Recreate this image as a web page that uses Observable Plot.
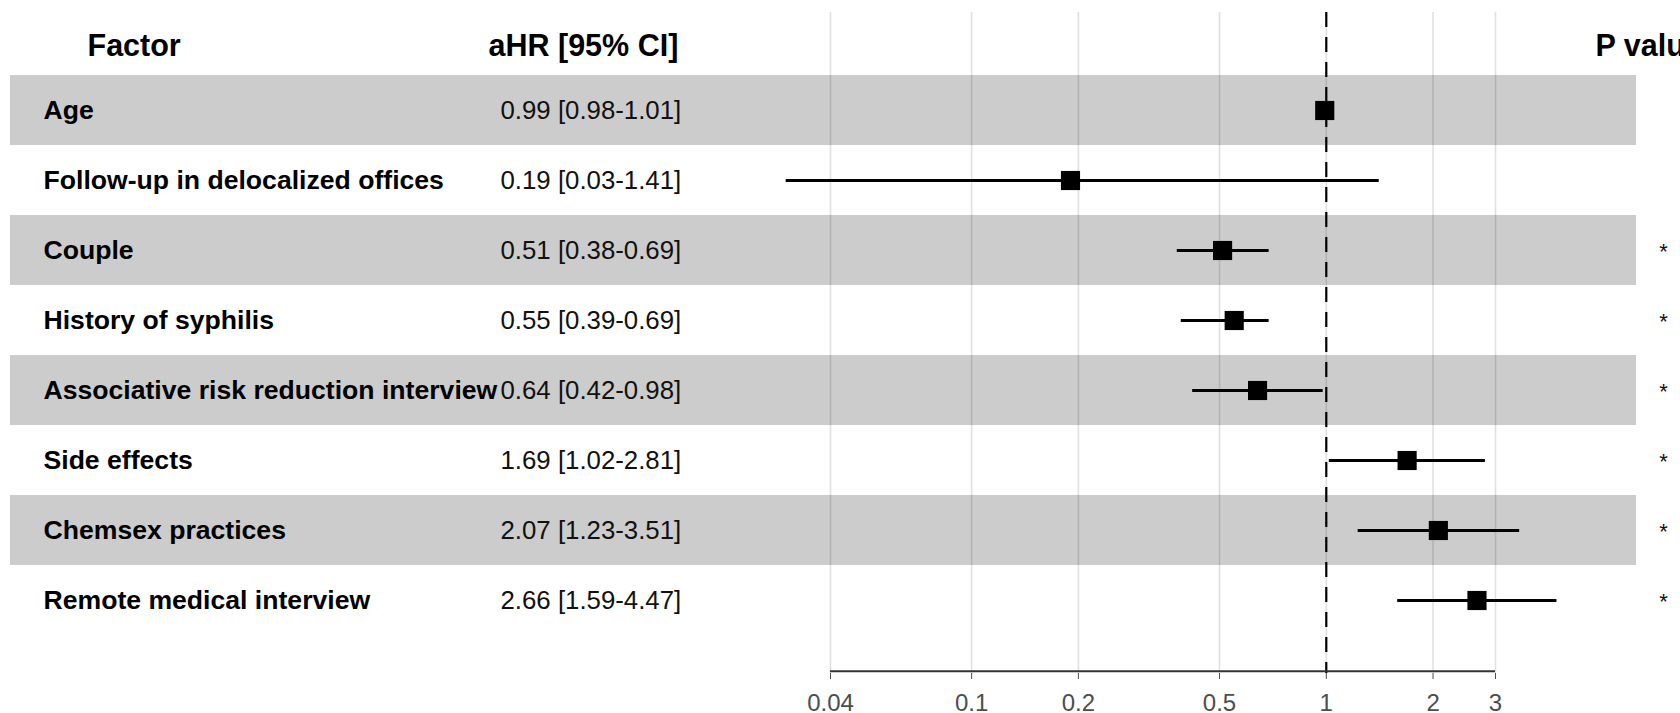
<!DOCTYPE html>
<html>
<head>
<meta charset="utf-8">
<script src="https://cdn.jsdelivr.net/npm/d3@7"></script>
<script src="https://cdn.jsdelivr.net/npm/@observablehq/plot@0.6"></script>
<style>
  html, body { margin: 0; padding: 0; background: #fff; }
  #chart svg { display: block; }
</style>
</head>
<body>
<div id="chart"></div>
<script>
// ---- data ----
const factors = [
  "Age",
  "Follow-up in delocalized offices",
  "Couple",
  "History of syphilis",
  "Associative risk reduction interview",
  "Side effects",
  "Chemsex practices",
  "Remote medical interview"
];
const hr    = [0.99, 0.19, 0.51, 0.55, 0.64, 1.69, 2.07, 2.66];
const lower = [0.98, 0.03, 0.38, 0.39, 0.42, 1.02, 1.23, 1.59];
const upper = [1.01, 1.41, 0.69, 0.69, 0.98, 2.81, 3.51, 4.47];
const pStars = ["", "", "*", "*", "*", "*", "*", "*"];
const xTicks = [0.04, 0.1, 0.2, 0.5, 1, 2, 3];
const headerFactor = "Factor";
const headerHR = "aHR [95% CI]";
const headerP = "P value";

// ---- table built from arrays ----
const rows = factors.map((f, i) => ({
  factor: f,
  hr: hr[i],
  lower: lower[i],
  upper: upper[i],
  label: `${hr[i].toFixed(2)} [${lower[i].toFixed(2)}-${upper[i].toFixed(2)}]`,
  star: pStars[i],
  shaded: i % 2 === 0
}));

// ---- layout ----
const W = 1680, H = 713;
const rowTop = 71.5, rowStep = 70.75;
const rowBottom = rowTop + rowStep * factors.length;
const font = "'Liberation Sans', Arial, sans-serif";

const chart = Plot.plot({
  width: W,
  height: H,
  marginLeft: 10,
  marginRight: 44,
  marginTop: 12,
  marginBottom: 40,
  style: { fontFamily: font, fontSize: "24px", color: "#4d4d4d", background: "#fff", overflow: "visible" },
  x: {
    type: "log",
    domain: [xTicks[0], xTicks[xTicks.length - 1]],
    range: [830, 1495],
    ticks: xTicks,
    tickFormat: d => String(d),
    tickSize: 6,
    tickPadding: 14,
    label: null
  },
  y: {
    type: "band",
    domain: factors,
    range: [rowTop, rowBottom],
    padding: 0,
    axis: null
  },
  marks: [
    // alternating grey bands
    Plot.cell(rows.filter(d => d.shaded), { y: "factor", fill: "#cccccc" }),
    // vertical grid lines at ticks
    Plot.ruleX(xTicks, { stroke: "#000", strokeOpacity: 0.12, strokeWidth: 1.6 }),
    // reference line at HR = 1
    Plot.ruleX([1], { stroke: "#000", strokeWidth: 2.2, strokeDasharray: "15,10" }),
    // axis line (one row step below last row centre)
    Plot.ruleY([factors[factors.length - 1]], {
      x1: xTicks[0], x2: xTicks[xTicks.length - 1], dy: rowStep,
      stroke: "#333", strokeWidth: 2.2
    }),
    // confidence intervals
    Plot.ruleY(rows, { y: "factor", x1: "lower", x2: "upper", stroke: "#000", strokeWidth: 3.2 }),
    // point estimates
    Plot.dot(rows, { y: "factor", x: "hr", symbol: "square", r: 10.8, fill: "#000", stroke: null }),
    // factor names
    Plot.text(rows, {
      y: "factor", text: "factor", frameAnchor: "left", textAnchor: "start", dx: 33,
      fontWeight: "bold", fontSize: 26.6, fill: "#000"
    }),
    // aHR text
    Plot.text(rows, {
      y: "factor", text: "label", frameAnchor: "left", textAnchor: "start", dx: 490,
      fontSize: 25.8, fill: "#111"
    }),
    // p-value stars
    Plot.text(rows, {
      y: "factor", text: "star", frameAnchor: "right", textAnchor: "middle", dx: 27, dy: 1,
      fontSize: 22, fill: "#111"
    }),
    // headers
    Plot.text([headerFactor], {
      text: d => d, frameAnchor: "top-left", lineAnchor: "middle", textAnchor: "start", dx: 77, dy: 34,
      fontWeight: "bold", fontSize: 30.5, fill: "#000"
    }),
    Plot.text([headerHR], {
      text: d => d, frameAnchor: "top-left", lineAnchor: "middle", textAnchor: "start", dx: 478, dy: 34,
      fontWeight: "bold", fontSize: 30.5, fill: "#000"
    }),
    Plot.text([headerP], {
      text: d => d, frameAnchor: "top-left", lineAnchor: "middle", textAnchor: "start", dx: 1585, dy: 34,
      fontWeight: "bold", fontSize: 30.5, fill: "#000"
    })
  ]
});

document.getElementById("chart").appendChild(chart);
</script>
</body>
</html>
